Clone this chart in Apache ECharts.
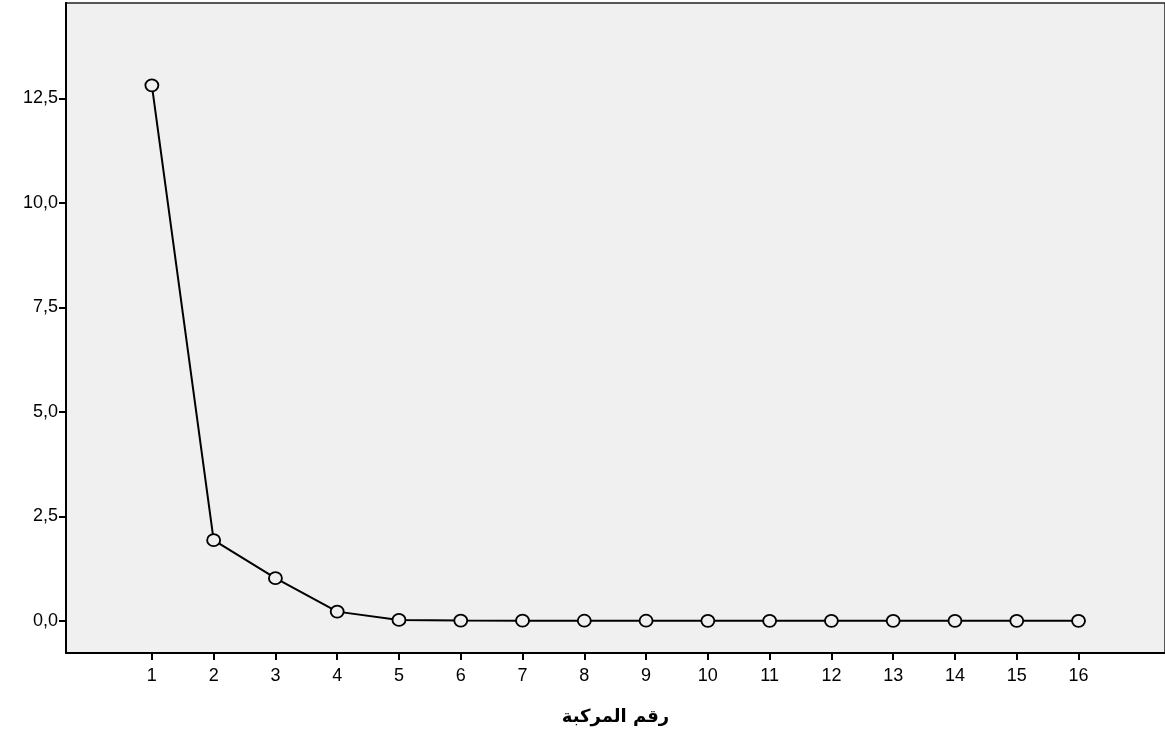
<!DOCTYPE html>
<html>
<head>
<meta charset="utf-8">
<script src="https://cdn.jsdelivr.net/npm/echarts@6/dist/echarts.min.js"></script>
<style>
html,body{margin:0;padding:0;background:#fff;}
#c{width:1165px;height:731px;}
</style>
</head>
<body>
<div id="c"></div>
<script>
const components = [1,2,3,4,5,6,7,8,9,10,11,12,13,14,15,16];
const eigenvalues = [12.81,1.93,1.02,0.22,0.02,0.005,0.003,0.002,0.002,0.001,0.001,0.001,0.001,0.0,0.0,0.0];
const yTicks = [0,2.5,5,7.5,10,12.5];
const xTitle = 'رقم المركبة';

const chart = echarts.init(document.getElementById('c'), null, {renderer:'canvas'});
const data = components.map((c,i)=>[c, eigenvalues[i]]);
chart.setOption({
  animation:false,
  backgroundColor:'#ffffff',
  grid:{left:66, top:3, right:-4, bottom:77, show:true, backgroundColor:'#f0f0f0', borderColor:'#222', borderWidth:1.5, containLabel:false},
  xAxis:{
    type:'value', min:-0.39, max:17.4,
    name:xTitle, nameLocation:'middle', nameGap:55,
    nameTextStyle:{fontFamily:'DejaVu Sans', fontWeight:'bold', fontSize:18, color:'#000'},
    axisLine:{show:true, onZero:false, lineStyle:{color:'#000', width:2}},
    axisTick:{show:true, inside:false, length:7, lineStyle:{color:'#000', width:2}, customValues:components},
    axisLabel:{customValues:components, fontFamily:'Liberation Sans', fontSize:18, color:'#000', margin:14},
    splitLine:{show:false}
  },
  yAxis:{
    type:'value', min:-0.77, max:14.78,
    axisLine:{show:true, onZero:false, lineStyle:{color:'#000', width:2}},
    axisTick:{show:true, inside:false, length:7, lineStyle:{color:'#000', width:2}, customValues:yTicks},
    axisLabel:{customValues:yTicks, fontFamily:'Liberation Sans', fontSize:18, color:'#000', margin:8,
      formatter:v=>v.toFixed(1).replace('.',',')},
    splitLine:{show:false}
  },
  series:[{
    type:'line', data:data,
    symbol:'circle', symbolSize:[13,12],
    lineStyle:{color:'#000', width:2},
    itemStyle:{color:'#f0f0f0', borderColor:'#000', borderWidth:1.8}
  }]
});
</script>
</body>
</html>
